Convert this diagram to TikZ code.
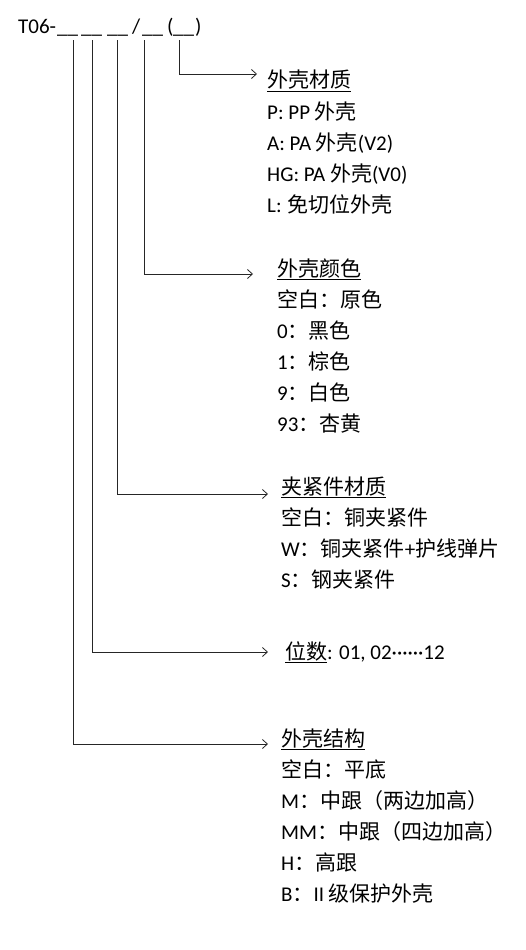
\documentclass[tikz,border=0pt]{standalone}
\usepackage{fontspec}
\setmainfont{Carlito}
\newfontfamily\cjk{Noto Sans CJK SC}
\usetikzlibrary{arrows.meta}

\tikzset{
  part/.style={inner sep=0pt, anchor=base west, font=\fontsize{21}{25}\selectfont},
  head/.style={part},
  item/.style={part},
  link/.style={line width=0.8pt, black!85, -{Straight Barb[length=5pt,width=9pt]}},
}

\begin{document}
\begin{tikzpicture}[x=1pt,y=-1pt]
\useasboundingbox (0,0) rectangle (525,950);

% part number
\node[part] (code) at (18,34) {T06-};
\node[part] (s1) at (57,34) {\_\_};
\node[part] (s2) at (81,34) {\_\_};
\node[part] (s3) at (107,34) {\_\_};
\node[part] (slash) at (132,34) {/};
\node[part] (s4) at (142,34) {\_\_};
\node[part] (lp) at (167,34) {(};
\node[part] (s5) at (173,34) {\_\_};
\node[part] (rp) at (195,34) {)};

% arrow tips
\coordinate (tip1) at (257,74);
\coordinate (tip2) at (253,274);
\coordinate (tip3) at (268,494);
\coordinate (tip4) at (268,652);
\coordinate (tip5) at (268,744);

% headings
\node[head] (shell) at (267,88) {\cjk\underline{外壳材质}};
\node[head] (color) at (277,276) {\cjk\underline{外壳颜色}};
\node[head] (clamp) at (281,494) {\cjk\underline{夹紧件材质}};
\node[head] (pins) at (285,659) {\underline{\cjk 位数}: 01, 02······12};
\node[head] (body) at (281,746) {\cjk\underline{外壳结构}};

% options
\foreach \txt [count=\i] in {{P: PP {\cjk 外壳}}, {A: PA {\cjk 外壳}(V2)},
    {HG: PA {\cjk 外壳}(V0)}, {L:\hspace{6pt}{\cjk 免切位外壳}}}
  \node[item] (shell-\i) at (267,88+31*\i) {\txt};

\foreach \txt [count=\i] in {{{\cjk 空白：原色}}, {0{\cjk ：黑色}}, {1{\cjk ：棕色}},
    {9{\cjk ：白色}}, {93{\cjk ：杏黄}}}
  \node[item] (color-\i) at (277,276+31*\i) {\txt};

\foreach \txt [count=\i] in {{{\cjk 空白：铜夹紧件}}, {W{\cjk ：铜夹紧件}+{\cjk 护线弹片}},
    {S{\cjk ：钢夹紧件}}}
  \node[item] (clamp-\i) at (281,494+31*\i) {\txt};

\foreach \txt [count=\i] in {{{\cjk 空白：平底}}, {M{\cjk ：中跟（两边加高）}},
    {MM{\cjk ：中跟（四边加高）}}, {H{\cjk ：高跟}}, {B{\cjk ：}II {\cjk 级保护外壳}}}
  \node[item] (body-\i) at (281,746+31*\i) {\txt};

% connectors
\draw[link] ([xshift=-4,yshift=-3]s5.south) |- (tip1);
\draw[link] ([xshift=-8,yshift=-3]s4.south) |- (tip2);
\draw[link] ([xshift=0,yshift=-3]s3.south) |- (tip3);
\draw[link] ([xshift=1,yshift=-3]s2.south) |- (tip4);
\draw[link] ([xshift=6,yshift=-3]s1.south) |- (tip5);

\end{tikzpicture}
\end{document}
